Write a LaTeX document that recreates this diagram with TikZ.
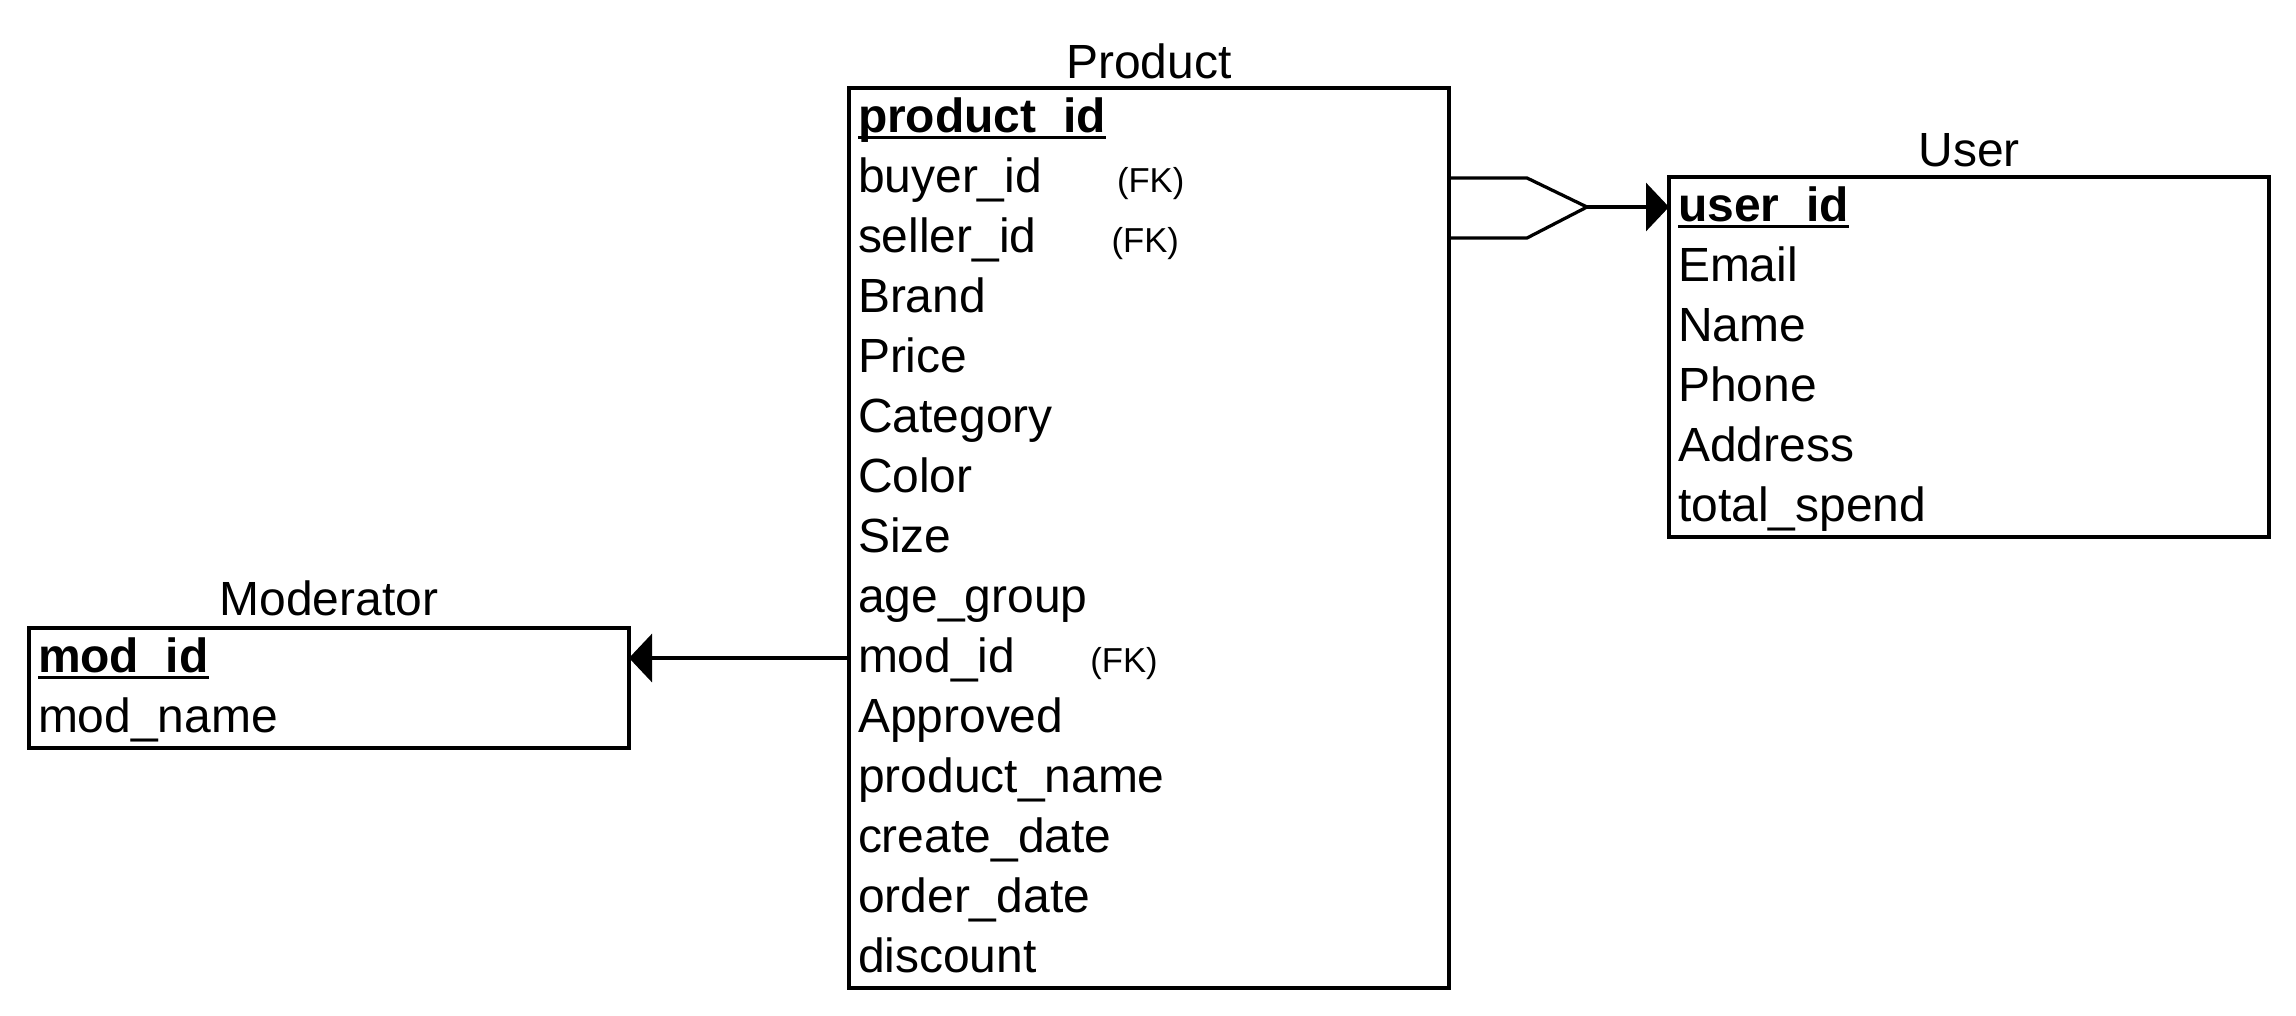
\documentclass[tikz,border=0pt]{standalone}
\usepackage{fontspec}
\setmainfont{Liberation Sans}
\usetikzlibrary{positioning, fit, arrows.meta}
\newcommand{\fieldfont}{\fontsize{27.3pt}{32pt}\selectfont}
\newcommand{\fk}{\hspace{1.5cm}{\fontsize{19.7pt}{23pt}\selectfont (FK)}}
\newsavebox{\pkbox}
\newcommand{\pk}[1]{\sbox{\pkbox}{\bfseries #1}\rlap{\rule[-0.13cm]{\wd\pkbox}{0.06cm}}\usebox{\pkbox}}
\tikzset{field/.style={minimum width=12cm, minimum height=1.2cm, text width=11.64cm, text height=0.84cm, text depth=0.28cm, inner xsep=0.18cm, inner ysep=0pt, outer sep=0pt, align=left, font=\fieldfont}}
\tikzset{table/.style={draw, line width=0.065cm, inner sep=0pt, outer sep=0pt}}
\tikzset{title/.style={font=\fieldfont, inner sep=0pt}}
\tikzset{rel/.style={line width=0.065cm}}
\tikzset{one/.style={-{Triangle[length=0.46cm, width=0.96cm]}, line width=0.065cm}}

\begin{document}
\begin{tikzpicture}
\useasboundingbox (0,0) rectangle (45.92,-20.32);

% Product
\node[field, anchor=north west] (pid) at (16.98,-1.76) {\pk{product\_id}};
\node[field, below=0pt of pid] (pbuyer) {buyer\_id\fk};
\node[field, below=0pt of pbuyer] (pseller) {seller\_id\fk};
\node[field, below=0pt of pseller] (pbrand) {Brand};
\node[field, below=0pt of pbrand] (pprice) {Price};
\node[field, below=0pt of pprice] (pcat) {Category};
\node[field, below=0pt of pcat] (pcolor) {Color};
\node[field, below=0pt of pcolor] (psize) {Size};
\node[field, below=0pt of psize] (page) {age\_group};
\node[field, below=0pt of page] (pmod) {mod\_id\fk};
\node[field, below=0pt of pmod] (pappr) {Approved};
\node[field, below=0pt of pappr] (pname) {product\_name};
\node[field, below=0pt of pname] (pcreate) {create\_date};
\node[field, below=0pt of pcreate] (porder) {order\_date};
\node[field, below=0pt of porder] (pdisc) {discount};
\node[table, fit=(pid) (pdisc)] (product) {};
\node[title, above=0.2cm of product.north, anchor=base] {Product};

% User
\node[field, anchor=north west] (uid) at (33.38,-3.54) {\pk{user\_id}};
\node[field, below=0pt of uid] (umail) {Email};
\node[field, below=0pt of umail] (uname) {Name};
\node[field, below=0pt of uname] (uphone) {Phone};
\node[field, below=0pt of uphone] (uaddr) {Address};
\node[field, below=0pt of uaddr] (uspend) {total\_spend};
\node[table, fit=(uid) (uspend)] (user) {};
\node[title, above=0.22cm of user.north, anchor=base] {User};

% Moderator
\node[field, anchor=north west] (mid) at (0.58,-12.56) {\pk{mod\_id}};
\node[field, below=0pt of mid] (mname) {mod\_name};
\node[table, fit=(mid) (mname)] (moderator) {};
\node[title, above=0.26cm of moderator.north, anchor=base] {Moderator};

\coordinate[left=1.64cm of uid.west] (join);
\draw[rel] (pbuyer.east) -- ++(1.56cm,0) -- (join);
\draw[rel] (pseller.east) -- ++(1.56cm,0) -- (join);
\draw[one] (join) -- (uid.west);
\draw[one] (pmod.west) -- (pmod.west -| mid.east);
\end{tikzpicture}
\end{document}
